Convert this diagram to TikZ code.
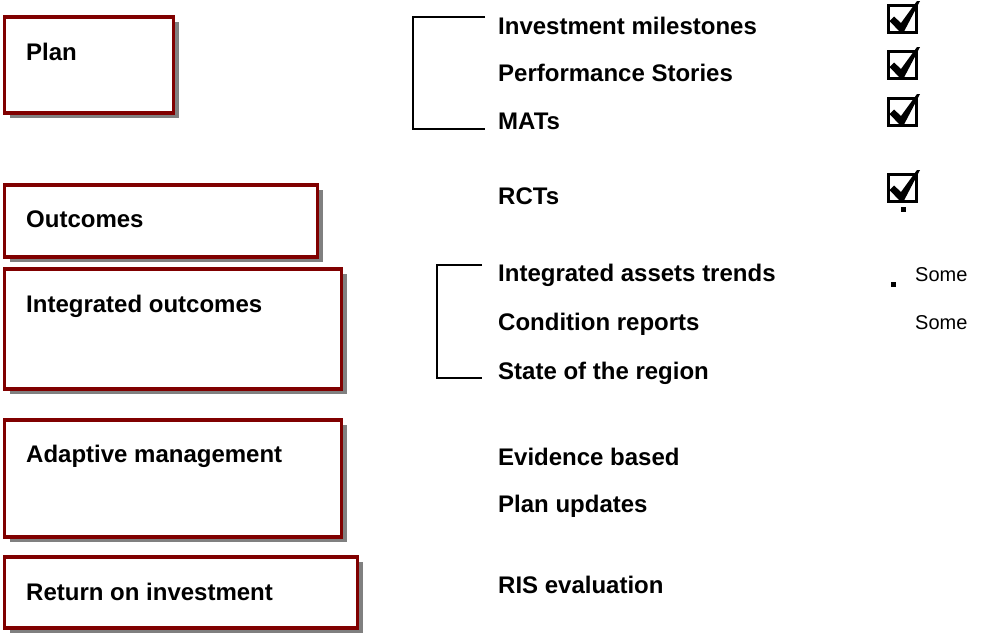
\documentclass[tikz,border=0pt]{standalone}
\usepackage{fontspec}
\setmainfont{Liberation Sans}
\usetikzlibrary{shadows}
\definecolor{boxred}{RGB}{128,0,0}
\definecolor{shadowgray}{RGB}{128,128,128}
\begin{document}
\begin{tikzpicture}[x=1pt,y=-1pt,
  panel/.style={draw=boxred, line width=3.5pt, fill=white, anchor=north west,
    inner sep=0pt, outer sep=0pt,
    general shadow={fill=shadowgray, shadow xshift=5pt, shadow yshift=-5pt}},
  lbl/.style={font=\bfseries\fontsize{24}{28}\selectfont, inner sep=0pt, anchor=base west},
  note/.style={font=\fontsize{20}{24}\selectfont, inner sep=0pt, anchor=base west},
  bracket/.style={draw=black, line width=1.5pt},
  tickbox/.pic={
    \draw[line width=3pt] (1.5,1.5) rectangle (29.5,28.5);
    \fill (2.5,17) -- (7,12.5) -- (14,19) -- (30,-3) -- (33,-3)
          -- (17,27.5) -- (12.5,27.5) -- cycle;
  }
]
\useasboundingbox (0,0) rectangle (981,632);

% left column panels
\node[panel, minimum width=169pt, minimum height=96pt]  (plan)  at (4.5,17) {};
\node[panel, minimum width=313pt, minimum height=72pt]  (outc)  at (4.5,185) {};
\node[panel, minimum width=337pt, minimum height=120pt] (integ) at (4.5,269) {};
\node[panel, minimum width=337pt, minimum height=117pt] (adapt) at (4.5,420) {};
\node[panel, minimum width=353pt, minimum height=71pt]  (roi)   at (4.5,557) {};

\node[lbl] (tplan)  at (26,60)  {Plan};
\node[lbl] (toutc)  at (26,227) {Outcomes};
\node[lbl] (tinteg) at (26,312) {Integrated outcomes};
\node[lbl] (tadapt) at (26,462) {Adaptive management};
\node[lbl] (troi)   at (26,600) {Return on investment};

% right column items
\node[lbl] (inv)   at (498,34.5) {Investment milestones};
\node[lbl] (perf)  at (498,81)   {Performance Stories};
\node[lbl] (mats)  at (498,129.5){MATs};
\node[lbl] (rcts)  at (498,204)  {RCTs};
\node[lbl] (trend) at (498,281)  {Integrated assets trends};
\node[lbl] (cond)  at (498,330)  {Condition reports};
\node[lbl] (state) at (498,379)  {State of the region};
\node[lbl] (evid)  at (498,465)  {Evidence based};
\node[lbl] (upd)   at (498,512)  {Plan updates};
\node[lbl] (ris)   at (498,593)  {RIS evaluation};

% brackets
\coordinate (b1t) at (485,17);
\coordinate (b1c) at (413,17);
\coordinate (b1d) at (413,129);
\coordinate (b1b) at (485,129);
\draw[bracket] (b1t) -- (b1c) -- (b1d) -- (b1b);
\coordinate (b2t) at (482,265);
\coordinate (b2c) at (437,265);
\coordinate (b2d) at (437,378);
\coordinate (b2b) at (482,378);
\draw[bracket] (b2t) -- (b2c) -- (b2d) -- (b2b);

% check boxes
\pic at (887,4)   {tickbox};
\pic at (887,50)  {tickbox};
\pic at (887,97)  {tickbox};
\pic at (887,173) {tickbox};
\fill (901,206.5) rectangle (906,211.5);
\fill (891,281.5) rectangle (896,286.5);

\node[note] (some1) at (915,281) {Some};
\node[note] (some2) at (915,329) {Some};
\end{tikzpicture}
\end{document}
